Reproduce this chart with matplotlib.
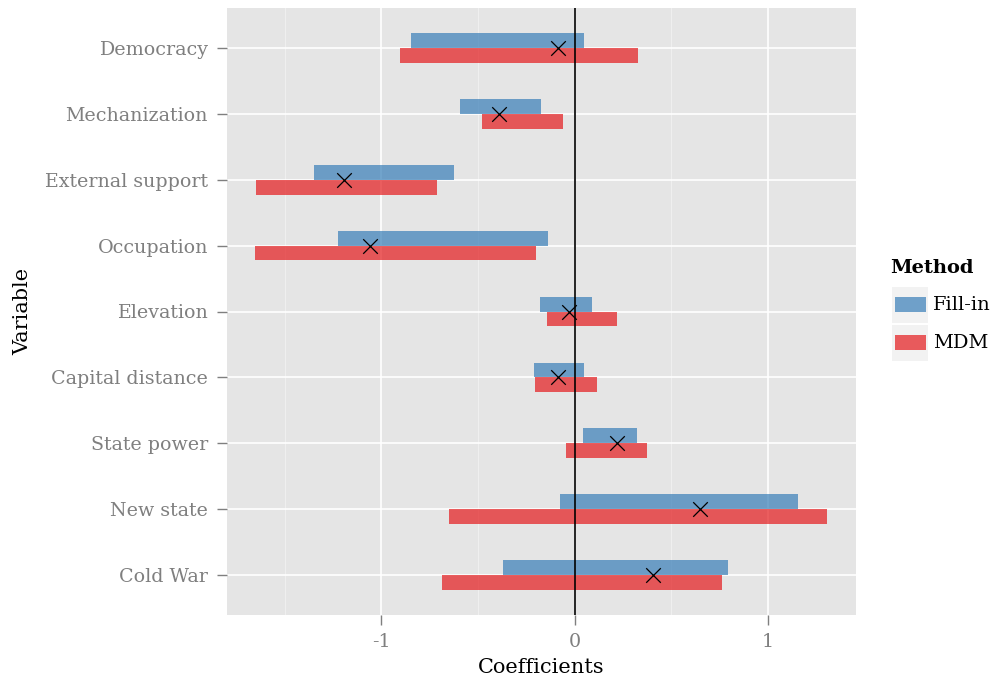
import matplotlib
matplotlib.use("Agg")
import matplotlib.pyplot as plt
from matplotlib.patches import Rectangle
import numpy as np

variables = ["Democracy", "Mechanization", "External support", "Occupation",
             "Elevation", "Capital distance", "State power", "New state", "Cold War"]
fill_lo = [-0.849, -0.593, -1.348, -1.224, -0.177, -0.210, 0.043, -0.076, -0.369]
fill_hi = [0.048, -0.174, -0.624, -0.138, 0.091, 0.047, 0.322, 1.156, 0.793]
mdm_lo = [-0.902, -0.478, -1.648, -1.651, -0.142, -0.204, -0.045, -0.648, -0.688]
mdm_hi = [0.327, -0.060, -0.710, -0.200, 0.217, 0.115, 0.372, 1.305, 0.760]
point_est = [-0.088, -0.389, -1.193, -1.057, -0.031, -0.088, 0.219, 0.648, 0.405]
x_ticks = [-1, 0, 1]
methods = ["Fill-in", "MDM"]
colors = ["#377EB8", "#E41A1C"]

plt.rcParams['font.family'] = ['DejaVu Serif']

W, H = 993, 681
fig = plt.figure(figsize=(W / 100, H / 100), dpi=100)
ax = fig.add_axes([227 / W, 1 - 615 / H, (856 - 227) / W, (615 - 8) / H])
bg = "#E5E5E5"
ax.set_facecolor(bg)
for s in ax.spines.values():
    s.set_visible(False)

n = len(variables)
ypos = np.arange(n)[::-1] + 1  # Democracy at top
bh = 0.227

ax.barh(ypos + bh / 2, np.array(fill_hi) - np.array(fill_lo), left=fill_lo, height=bh,
        color=colors[0], alpha=0.7, zorder=3, linewidth=0)
ax.barh(ypos - bh / 2, np.array(mdm_hi) - np.array(mdm_lo), left=mdm_lo, height=bh,
        color=colors[1], alpha=0.7, zorder=3, linewidth=0)
ax.axvline(0, color="black", lw=1.2, zorder=4)
ax.scatter(point_est, ypos, marker="x", s=110, color="black", linewidths=0.9, zorder=5)

ax.set_xlim(-1.798, 1.4545)
ax.set_ylim(0.4, n + 0.6)
ax.set_xticks(x_ticks)
ax.set_xticklabels([str(t) for t in x_ticks])
ax.set_xticks([-1.5, -0.5, 0.5], minor=True)
ax.set_yticks(ypos)
ax.set_yticklabels(variables)
ax.grid(True, which="major", color="white", lw=1.2, zorder=1)
ax.grid(True, which="minor", axis="x", color="#F2F2F2", lw=0.6, zorder=1)
ax.set_axisbelow(True)
ax.tick_params(axis="both", which="major", color="#7F7F7F", length=7.2, width=1,
               labelcolor="#7F7F7F", labelsize=13.7)
ax.tick_params(axis="y", which="major", pad=6.5)
ax.tick_params(axis="x", which="major", pad=6)
ax.tick_params(axis="both", which="minor", length=0)
ax.set_xlabel("Coefficients", fontsize=15, color="black", labelpad=5)
ax.set_ylabel("Variable", fontsize=15, color="black", labelpad=9)

# legend (ggplot-style)
fig.text(890 / W, 1 - 268 / H, "Method", fontsize=14, fontweight="bold", va="center", ha="left")
for i, (m, c) in enumerate(zip(methods, colors)):
    y0 = 286.7 + i * 38
    fig.patches.append(Rectangle((892 / W, 1 - (y0 + 36) / H), 36 / W, 36 / H,
                                 transform=fig.transFigure, facecolor="#F2F2F2", edgecolor="none"))
    fig.patches.append(Rectangle((894.5 / W, 1 - (y0 + 25) / H), 31 / W, 15 / H,
                                 transform=fig.transFigure, facecolor=c, alpha=0.7, edgecolor="none"))
    fig.text(933 / W, 1 - (y0 + 18) / H, m, fontsize=14, va="center", ha="left")

fig.savefig("out.png", dpi=100)
